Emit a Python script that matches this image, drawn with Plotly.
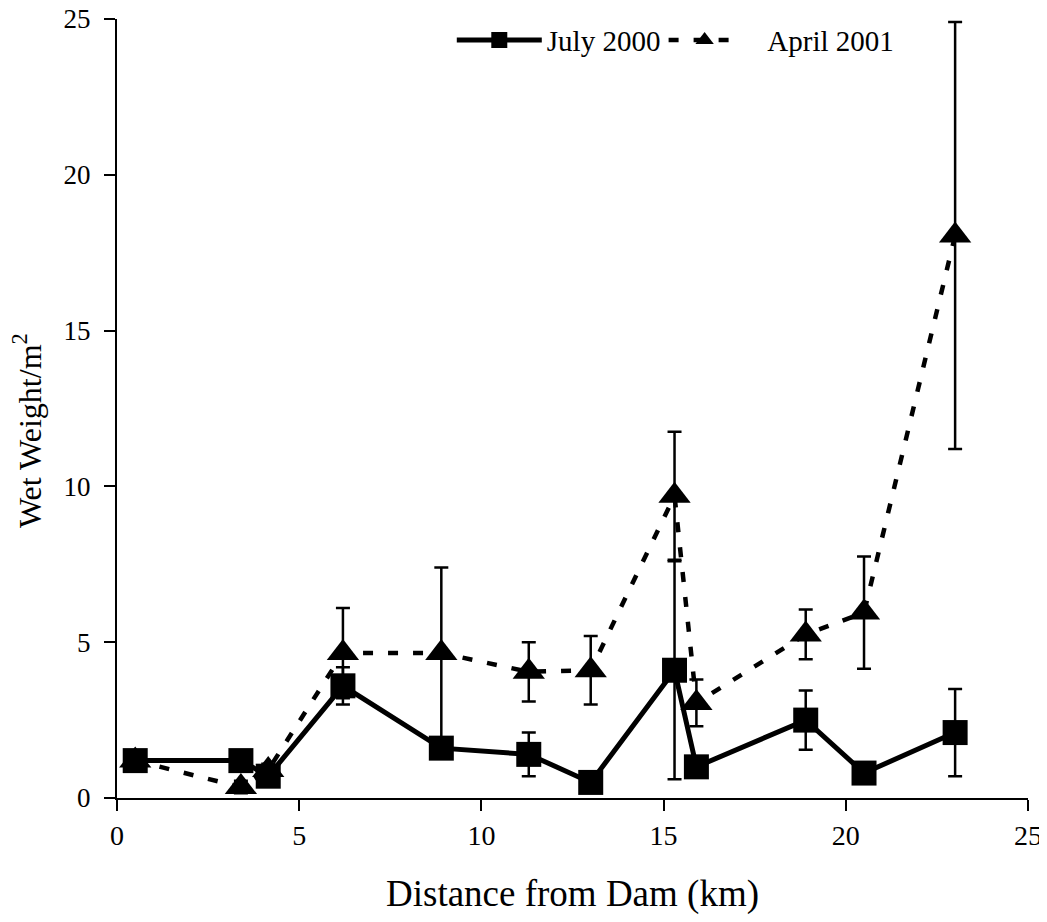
import plotly.graph_objects as go

distance_july = [0.5, 3.4, 4.15, 6.2, 8.9, 11.3, 13.0, 15.3, 15.9, 18.9, 20.5, 23.0]
weight_july = [1.2, 1.2, 0.7, 3.6, 1.6, 1.4, 0.5, 4.1, 1.0, 2.5, 0.8, 2.1]
err_july = [0.3, 0.3, 0.2, 0.6, 0.3, 0.7, 0.2, 3.5, 0.3, 0.95, 0.2, 1.4]

distance_april = [0.5, 3.4, 4.15, 6.2, 8.9, 11.3, 13.0, 15.3, 15.9, 18.9, 20.5, 23.0]
weight_april = [1.2, 0.35, 0.9, 4.65, 4.65, 4.05, 4.1, 9.7, 3.05, 5.25, 5.95, 18.05]
err_april = [0.2, 0.2, 0.2, 1.45, 2.75, 0.95, 1.1, 2.05, 0.75, 0.8, 1.8, 6.85]

FONT = "Liberation Serif"

# page body has an 8px default margin, so the figure is drawn 8px smaller and shifted
fig = go.Figure()
fig.add_trace(go.Scatter(
    x=distance_april, y=weight_april, name="\u00a0\u00a0\u00a0April 2001", mode="lines+markers",
    line=dict(color="black", width=4.5, dash="10px,15px"),
    marker=dict(symbol="triangle-up", size=28, color="black"),
    error_y=dict(type="data", array=err_april, visible=True, color="black", thickness=2.5, width=7),
    legend="legend2",
))
fig.add_trace(go.Scatter(
    x=distance_july, y=weight_july, name="July 2000", mode="lines+markers",
    line=dict(color="black", width=5),
    marker=dict(symbol="square", size=25, color="black"),
    error_y=dict(type="data", array=err_july, visible=True, color="black", thickness=2.5, width=7),
    legend="legend",
))

axis_common = dict(
    showline=True, linecolor="black", linewidth=2, showgrid=False, zeroline=False,
    ticks="outside", ticklen=11, tickwidth=1.5, tickcolor="black", automargin=False,
    ticklabeloverflow="allow",
)

legend_common = dict(orientation="h", y=0.973, xanchor="left", yanchor="middle",
                     font=dict(family=FONT, size=29, color="black"),
                     bgcolor="rgba(0,0,0,0)")

fig.update_layout(
    width=1039, height=914,
    margin=dict(l=109, r=19, t=11, b=124, autoexpand=False),
    paper_bgcolor="white", plot_bgcolor="white",
    font=dict(family=FONT, color="black"),
    showlegend=True,
    legend=dict(x=0.3675, itemwidth=85, **legend_common),
    legend2=dict(x=0.60, itemwidth=72, **legend_common),
    xaxis=dict(range=[0, 25], tickvals=[0, 5, 10, 15, 20, 25],
               tickfont=dict(family=FONT, size=28, color="black"),
               title=dict(text="Distance from Dam (km)", font=dict(family=FONT, size=37, color="black"), standoff=31),
               **axis_common),
    yaxis=dict(range=[0, 25], tickvals=[0, 5, 10, 15, 20, 25], ticklabelstandoff=8,
               tickfont=dict(family=FONT, size=27, color="black"),
               **axis_common),
    annotations=[dict(text="Wet Weight/m<sup>2</sup>", textangle=-90, showarrow=False,
                      xref="paper", yref="paper", x=-0.098, y=0.472,
                      xanchor="center", yanchor="middle",
                      font=dict(family=FONT, size=32, color="black"))],
)

fig.write_html("out.html")
